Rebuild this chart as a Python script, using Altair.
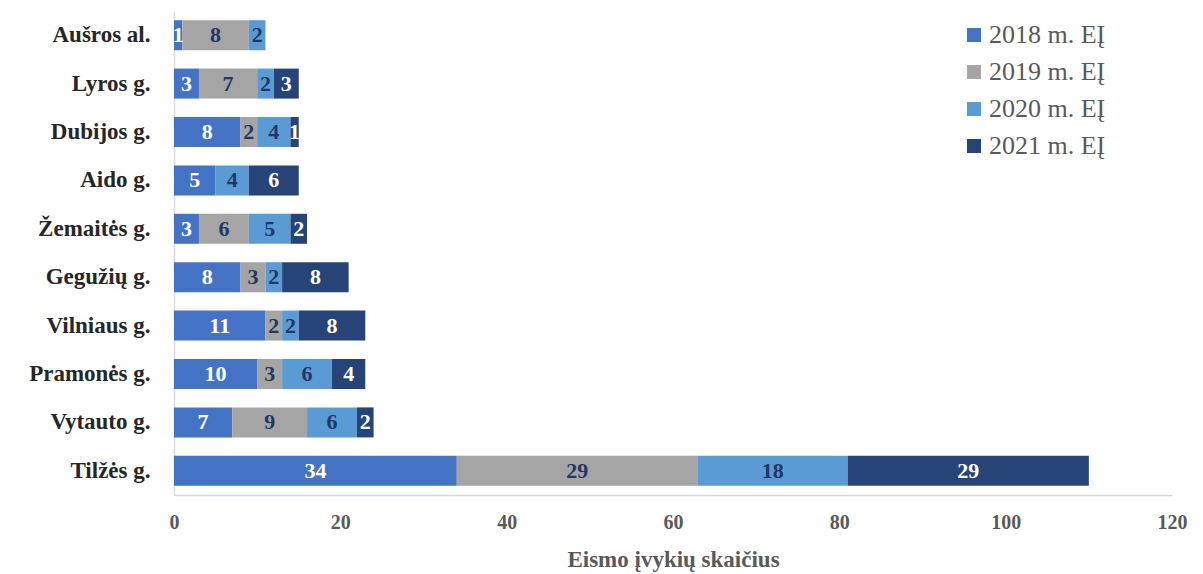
import altair as alt
import pandas as pd

streets = ["Aušros al.", "Lyros g.", "Dubijos g.", "Aido g.", "Žemaitės g.",
           "Gegužių g.", "Vilniaus g.", "Pramonės g.", "Vytauto g.", "Tilžės g."]
series = ["2018 m. EĮ", "2019 m. EĮ", "2020 m. EĮ", "2021 m. EĮ"]
v2018 = [1, 3, 8, 5, 3, 8, 11, 10, 7, 34]
v2019 = [8, 7, 2, 0, 6, 3, 2, 3, 9, 29]
v2020 = [2, 2, 4, 4, 5, 2, 2, 6, 6, 18]
v2021 = [0, 3, 1, 6, 2, 8, 8, 4, 2, 29]
colors = ["#4472C4", "#A5A5A5", "#5B9BD5", "#264478"]
text_colors = ["#FFFFFF", "#1F3864", "#1F3864", "#FFFFFF"]

rows = []
for si, (s, vals) in enumerate(zip(series, [v2018, v2019, v2020, v2021])):
    for st, v in zip(streets, vals):
        if v > 0:
            rows.append({"street": st, "series": s, "value": v, "order": si,
                         "tcolor": text_colors[si]})
df = pd.DataFrame(rows)

font = "Liberation Serif"

base = alt.Chart(df).transform_stack(
    stack="value", groupby=["street"], as_=["x0", "x1"],
    sort=[alt.SortField("order", order="ascending")]
).transform_calculate(mid="(datum.x0 + datum.x1) / 2")

y_enc = alt.Y("street:N", sort=streets, title=None,
              scale=alt.Scale(paddingInner=0.38, paddingOuter=0.19),
              axis=alt.Axis(labelFont=font, labelFontSize=23, labelFontWeight="bold",
                            labelColor="#262626", ticks=False, labelPadding=24,
                            domainColor="#D9D9D9", domainWidth=1.5))

x_enc = alt.X("x0:Q", scale=alt.Scale(domain=[0, 120]),
              title="Eismo įvykių skaičius",
              axis=alt.Axis(values=[0, 20, 40, 60, 80, 100, 120], grid=False, ticks=False,
                            labelFlush=False,
                            labelFont=font, labelFontSize=20, labelFontWeight="bold",
                            labelColor="#595959", labelPadding=17,
                            titleFont=font, titleFontSize=23, titleFontWeight="bold",
                            titleColor="#595959", titlePadding=16,
                            domainColor="#D9D9D9", domainWidth=1.5))

bars = base.mark_bar().encode(
    y=y_enc,
    x=x_enc,
    x2="x1:Q",
    color=alt.Color("series:N", sort=series,
                    scale=alt.Scale(domain=series, range=colors),
                    legend=alt.Legend(title=None, orient="none", legendX=787, legendY=11,
                                      symbolType="square", symbolSize=196,
                                      symbolStrokeWidth=0,
                                      labelFont=font, labelFontSize=26,
                                      labelColor="#595959", rowPadding=11,
                                      labelOffset=2)),
    order=alt.Order("order:Q"),
)

labels = base.mark_text(font=font, fontSize=22, fontWeight="bold", baseline="middle").encode(
    y=alt.Y("street:N", sort=streets),
    x=alt.X("mid:Q"),
    text=alt.Text("value:Q"),
    color=alt.Color("tcolor:N", scale=None),
)

chart = alt.layer(bars, labels).properties(
    width=998, height=484,
    autosize=alt.AutoSizeParams(type="none"),
    padding={"left": 166, "top": 3, "right": 19, "bottom": 79},
).configure(background="white").configure_view(stroke=None)

chart.save("out.html", embed_options={"renderer": "svg", "actions": False})
